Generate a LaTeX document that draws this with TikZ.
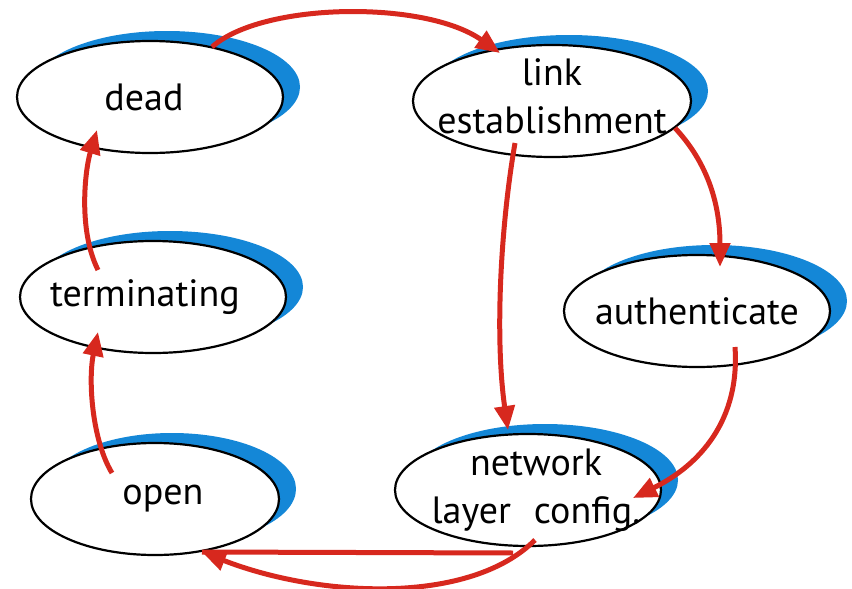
\documentclass[tikz,border=0pt]{standalone}
\usepackage{fontspec}
\setmainfont{PT Sans}
\usetikzlibrary{shapes.geometric, shadows, arrows.meta}
\definecolor{phaseblue}{RGB}{20,135,215}
\definecolor{flowred}{RGB}{215,40,30}

\begin{document}
\begin{tikzpicture}[
		x=1pt, y=-1pt,
		state/.style={ellipse, draw, line width=2.2pt, fill=white,
			minimum width=266pt, minimum height=112pt, inner sep=0pt,
			drop shadow={shadow xshift=17pt, shadow yshift=10pt, fill=phaseblue, opacity=1}},
		statetext/.style={font=\fontsize{38}{48}\selectfont, align=center},
		flow/.style={-{Triangle[length=24pt,width=20pt]}, line width=5pt, draw=flowred},
		flowline/.style={line width=5pt, draw=flowred}
	]
	\useasboundingbox (0,0) rectangle (852,589);

	% phases
	\node[state, label={[statetext, xshift=-6pt]center:dead}] (dead) at (150,97) {};
	\node[state, minimum width=278pt, label={[statetext, yshift=5pt]center:{link\\establishment}}] (link) at (552,101) {};
	\node[state, label={[statetext, xshift=-8pt]center:terminating}] (term) at (153,297) {};
	\node[state, label={[statetext]center:authenticate}] (auth) at (697,311) {};
	\node[state, minimum width=248pt, label={[statetext, xshift=8pt]center:open}] (open) at (155,499) {};
	\node[state, label={[statetext, xshift=8pt]center:{network\\layer\hspace{0.6em}config.}}] (net) at (528,490) {};

	% transitions
	\draw[flow] ([shift={(62,-50)}]dead.center) .. controls (262,2) and (425,0) .. ([shift={(-52,-48)}]link.center);
	\draw[flow] ([shift={(-37,42)}]link.center) .. controls (500,230) and (495,340) .. ([shift={(-20,-60)}]net.center);
	\draw[flow] ([shift={(123,27)}]link.center) .. controls (705,160) and (720,200) .. ([shift={(23,-44)}]auth.center);
	\draw[flow] ([shift={(38,36)}]auth.center) .. controls (740,420) and (700,465) .. ([shift={(105,8)}]net.center);
	\draw[flow] ([shift={(7,50)}]net.center) .. controls (470,605) and (320,598) .. ([shift={(47,53)}]open.center);
	\coordinate (opentip) at ([shift={(47,53)}]open.center);
	\coordinate (meet) at (513,553);
	\draw[flowline] (opentip) -- (meet);
	\draw[flow] ([shift={(-43,-26)}]open.center) .. controls (92,440) and (88,380) .. ([shift={(-55,35)}]term.center);
	\draw[flow] ([shift={(-55,-27)}]term.center) .. controls (78,230) and (85,170) .. ([shift={(-53,33)}]dead.center);

\end{tikzpicture}
\end{document}
